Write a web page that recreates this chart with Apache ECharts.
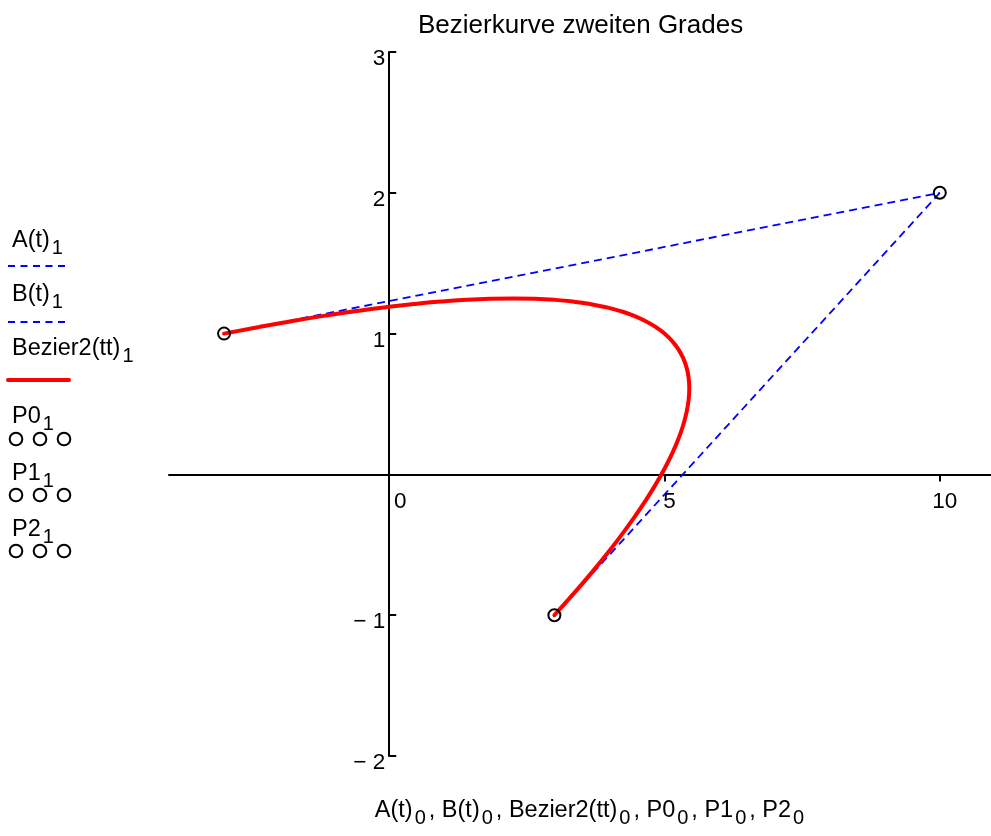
<!DOCTYPE html>
<html><head><meta charset="utf-8">
<script src="https://cdn.jsdelivr.net/npm/echarts@6/dist/echarts.min.js"></script>
<style>html,body{margin:0;padding:0;background:#fff}#c{width:991px;height:836px}</style>
</head><body><div id="c"></div>
<script>
// ---- data ----
const titleText = 'Bezierkurve zweiten Grades';
const P0 = [-3, 1];
const P1 = [10, 2];
const P2 = [3, -1];
const lineA = [[-3, 1], [10, 2]];
const lineB = [[10, 2], [3, -1]];
const bezierX = [-3, -2.3625, -1.75, -1.1625, -0.6, -0.0625, 0.45, 0.9375, 1.4, 1.8375, 2.25, 2.6375, 3.0, 3.3375, 3.65, 3.9375, 4.2, 4.4375, 4.65, 4.8375, 5.0, 5.1375, 5.25, 5.3375, 5.4, 5.4375, 5.45, 5.4375, 5.4, 5.3375, 5.25, 5.1375, 5.0, 4.8375, 4.65, 4.4375, 4.2, 3.9375, 3.65, 3.3375, 3.0];
const bezierY = [1, 1.0475, 1.09, 1.1275, 1.16, 1.1875, 1.21, 1.2275, 1.24, 1.2475, 1.25, 1.2475, 1.24, 1.2275, 1.21, 1.1875, 1.16, 1.1275, 1.09, 1.0475, 1.0, 0.9475, 0.89, 0.8275, 0.76, 0.6875, 0.61, 0.5275, 0.44, 0.3475, 0.25, 0.1475, 0.04, -0.0725, -0.19, -0.3125, -0.44, -0.5725, -0.71, -0.8525, -1];
const xMin = -4, xMax = 10.93, yMin = -2, yMax = 3;
const xTickValues = [0, 5, 10];
const yTickValues = [-2, -1, 0, 1, 2, 3];
const yLabelValues = [-2, -1, 1, 2, 3];
const seriesNames = ['A(t)', 'B(t)', 'Bezier2(tt)', 'P0', 'P1', 'P2'];
const legendSub = '1';
const axisSub = '0';

// ---- layout / styles ----
const W = 991, H = 836;
const G = { left: 169, right: 0, top: 52, bottom: 80 };
const gridW = W - G.left - G.right, gridH = H - G.top - G.bottom;
const xAxisOffset = -gridH * (0 - yMin) / (yMax - yMin);
const yAxisOffset = -gridW * (0 - xMin) / (xMax - xMin);

const FF = '"Liberation Sans", Arial, sans-serif';
const BLUE = '#0000ff', RED = '#ff0000';
const richSub = {
  m: { fontSize: 23.5, fontFamily: FF, fill: '#000', lineHeight: 30 },
  s: { fontSize: 20, fontFamily: FF, fill: '#000', lineHeight: 30, padding: [14, 3, 0, 2] }
};
function sub(name, s) { return '{m|' + name + '}{s|' + s + '}'; }

const chart = echarts.init(document.getElementById('c'), null, { renderer: 'canvas' });

const legendTextY = [241, 295, 349, 417, 474, 530];
const legendSampleY = [266, 322, 380, 439, 495, 551];
const graphics = [];
seriesNames.forEach((n, i) => {
  graphics.push({
    type: 'text', x: 12, y: legendTextY[i],
    style: { text: sub(n, legendSub), align: 'left', verticalAlign: 'middle', textAlign: 'left', textVerticalAlign: 'middle', rich: richSub }
  });
  const sy = legendSampleY[i];
  if (i < 2) {
    graphics.push({ type: 'line', shape: { x1: 8, y1: sy, x2: 65, y2: sy }, style: { stroke: BLUE, lineWidth: 1.8, lineDash: [7, 5.5] } });
  } else if (i === 2) {
    graphics.push({ type: 'line', shape: { x1: 8, y1: sy, x2: 69, y2: sy }, style: { stroke: RED, lineWidth: 4, lineCap: 'round' } });
  } else {
    [16, 40, 64].forEach(cx => graphics.push({ type: 'circle', shape: { cx: cx, cy: sy, r: 6.3 }, style: { fill: 'none', stroke: '#000', lineWidth: 2 } }));
  }
});
graphics.push({
  type: 'text', x: 591, y: 811,
  style: { text: seriesNames.map(n => sub(n, axisSub)).join('{m|, }'), align: 'center', verticalAlign: 'middle', textAlign: 'center', textVerticalAlign: 'middle', rich: richSub }
});

const pointStyle = { color: 'rgba(0,0,0,0)', borderColor: '#000', borderWidth: 2, opacity: 1 };

const option = {
  animation: false,
  backgroundColor: '#fff',
  title: {
    text: titleText, left: 418, top: 13, padding: 0,
    textStyle: { fontSize: 26, fontWeight: 'normal', color: '#000', fontFamily: FF }
  },
  grid: { left: G.left, right: G.right, top: G.top, bottom: G.bottom, containLabel: false },
  xAxis: {
    type: 'value', min: xMin, max: xMax, position: 'bottom', offset: xAxisOffset,
    axisLine: { onZero: false, lineStyle: { color: '#000', width: 2 } },
    axisTick: { show: true, length: 7, lineStyle: { color: '#000', width: 2 }, customValues: xTickValues },
    axisLabel: {
      customValues: xTickValues, margin: 16, fontSize: 22.5, color: '#000', fontFamily: FF,
      padding: [0, 0, 0, 10],
      formatter: v => v === 0 ? '{z|0}' : String(v),
      rich: { z: { fontSize: 22.5, fontFamily: FF, color: '#000', padding: [0, 0, 0, 12] } }
    },
    splitLine: { show: false }
  },
  yAxis: {
    type: 'value', min: yMin, max: yMax, position: 'left', offset: yAxisOffset,
    axisLine: { onZero: false, lineStyle: { color: '#000', width: 2 } },
    axisTick: { show: true, inside: true, length: 7, lineStyle: { color: '#000', width: 2 }, customValues: yTickValues },
    axisLabel: {
      customValues: yLabelValues, margin: 4, fontSize: 22.5, color: '#000', fontFamily: FF,
      formatter: v => '{a|' + (v < 0 ? '\u2212 ' + Math.abs(v) : String(v)) + '}',
      rich: { a: { fontSize: 22.5, fontFamily: FF, color: '#000', padding: [14, 0, 0, 0] } }
    },
    splitLine: { show: false }
  },
  series: [
    { name: seriesNames[0], type: 'line', data: lineA, symbol: 'none', z: 2,
      lineStyle: { color: BLUE, width: 1.8, type: [8, 5] } },
    { name: seriesNames[1], type: 'line', data: lineB, symbol: 'none', z: 2,
      lineStyle: { color: BLUE, width: 1.8, type: [8, 5] } },
    { name: seriesNames[2], type: 'line', data: bezierX.map((x, i) => [x, bezierY[i]]), symbol: 'none', smooth: true, z: 3,
      lineStyle: { color: RED, width: 4, cap: 'round', join: 'round' } },
    { name: seriesNames[3], type: 'scatter', data: [P0], symbol: 'circle', symbolSize: 12, z: 4, itemStyle: pointStyle },
    { name: seriesNames[4], type: 'scatter', data: [P1], symbol: 'circle', symbolSize: 12, z: 4, itemStyle: pointStyle },
    { name: seriesNames[5], type: 'scatter', data: [P2], symbol: 'circle', symbolSize: 12, z: 4, itemStyle: pointStyle }
  ],
  graphic: { elements: graphics }
};
chart.setOption(option);
</script>
</body></html>
